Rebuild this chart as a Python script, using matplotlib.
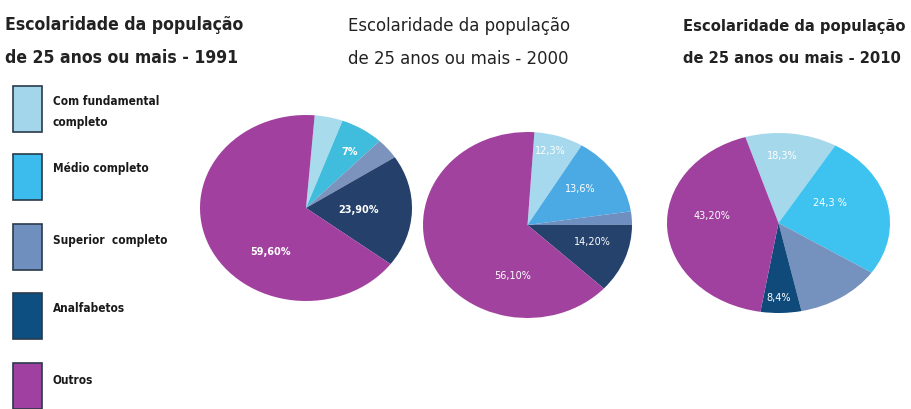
import numpy as np
import matplotlib
matplotlib.use('Agg')
import matplotlib.pyplot as plt
from matplotlib.patches import Rectangle
from matplotlib import font_manager

# categories (legend order = slice order, clockwise from top)
categories = ['Com fundamental\ncompleto', 'Médio completo', 'Superior  completo',
              'Analfabetos', 'Outros']
years = ['1991', '2000', '2010']

# wedge shares (percent)
shares_1991 = [4.3, 6.6, 3.6, 19.5, 66.0]
shares_2000 = [7.6, 14.0, 2.3, 12.0, 64.1]
shares_2010 = [13.3, 25.8, 12.4, 5.9, 42.6]

# printed labels (None = no label on that wedge)
labels_1991 = [None, '7%', None, '23,90%', '59,60%']
labels_2000 = ['12,3%', '13,6%', None, '14,20%', '56,10%']
labels_2010 = ['18,3%', '24,3 %', None, '8,4%', '43,20%']

# pick a narrow font if there is one
entries = font_manager.fontManager.ttflist
names = set(f.name for f in entries)
stretch = 'normal'
if 'Liberation Sans Narrow' in names:
    narrow = ['Liberation Sans Narrow', 'DejaVu Sans']
elif any(f.name == 'DejaVu Sans' and 'condensed' in str(f.stretch) for f in entries):
    narrow = ['DejaVu Sans']
    stretch = 'condensed'
else:
    cond = sorted(n for n in names if 'Condensed' in n or 'Narrow' in n)
    narrow = (cond[:1] or ['Liberation Sans']) + ['DejaVu Sans']

W, H = 912, 409
fig = plt.figure(figsize=(W / 100, H / 100), dpi=100)
fig.patch.set_facecolor('white')
renderer = fig.canvas.get_renderer()

def fit_width(t, target):
    # scale font so the widest line is target px wide
    bb = t.get_window_extent(renderer)
    t.set_fontsize(t.get_fontsize() * target / bb.width)

legend_colors = ['#a3d6ea', '#3cbcec', '#6f8fbf', '#0d4f80', '#a040a0']
pie_colors = [
    ['#a8dced', '#40bcdc', '#7b93bd', '#25406a', '#a1409f'],
    ['#a6d9ee', '#4ba9e4', '#6f8fc0', '#25426c', '#a1429f'],
    ['#a5d8ea', '#3ec3f1', '#7492bd', '#0f4a7a', '#a0419f'],
]

# layout: pie boxes in pixels (left, top, width, height), start angles
boxes = [(200, 115, 212, 186), (423, 132, 209, 186), (667, 133, 223, 180)]
starts = [85.3, 86.2, 107.3]
# label placement: (shift of angle in deg, radius)
lab_pos = [
    [None, (2, 0.73), None, (1, 0.5), (-31, 0.58)],
    [(-2, 0.83), (-4, 0.64), None, (-5, 0.65), (-54, 0.57)],
    [(-4, 0.74), (-13, 0.51), None, (1, 0.83), (11, 0.6)],
]
title_x = [5, 348, 683]
title_width = [238, 224, 222]
title_base = [(30, 63), (31, 64), (31, 63)]
title_w = ['bold', 'normal', 'bold']

def px_axes(l, t, w, h):
    return fig.add_axes([l / W, 1 - (t + h) / H, w / W, h / H])

for i, (shares, labs) in enumerate(zip([shares_1991, shares_2000, shares_2010],
                                       [labels_1991, labels_2000, labels_2010])):
    ax = px_axes(*boxes[i])
    wedges, _ = ax.pie(shares, colors=pie_colors[i], startangle=starts[i],
                       counterclock=False, normalize=True,
                       wedgeprops=dict(linewidth=0))
    ax.set_aspect('auto')
    ax.set_xlim(-1, 1)
    ax.set_ylim(-1, 1)
    for w, lab, pos in zip(wedges, labs, lab_pos[i]):
        if lab is None:
            continue
        mid = np.deg2rad((w.theta1 + w.theta2) / 2 - pos[0])
        ax.text(pos[1] * np.cos(mid), pos[1] * np.sin(mid), lab, color='white',
                fontsize=7, ha='center', va='center',
                fontweight='bold' if i == 0 else 'normal')
    lines = ['Escolaridade da população', 'de 25 anos ou mais - ' + years[i]]
    tt = [fig.text(title_x[i] / W, 1 - b / H, s, ha='left', va='baseline',
                   fontsize=16, family=narrow, fontstretch=stretch,
                   fontweight=title_w[i], color='#222222')
          for s, b in zip(lines, title_base[i])]
    fit_width(tt[0], title_width[i])
    tt[1].set_fontsize(tt[0].get_fontsize())

# legend boxes
box_tops = [86, 154, 224, 293, 363]
text_y = [112, 169, 240, 308, 380]
leg_texts = []
for c, cat, top, ty in zip(legend_colors, categories, box_tops, text_y):
    fig.patches.append(Rectangle((13 / W, 1 - (top + 46) / H), 29 / W, 46 / H,
                                 transform=fig.transFigure, facecolor=c,
                                 edgecolor='#2a3a4a', linewidth=1.2))
    leg_texts.append(fig.text(53 / W, 1 - ty / H, cat, ha='left', va='center',
                              fontsize=10.5, family=narrow, fontstretch=stretch,
                              fontweight='bold', color='#1a1a1a', linespacing=1.8))
fit_width(leg_texts[0], 106)
for t in leg_texts[1:]:
    t.set_fontsize(leg_texts[0].get_fontsize())

fig.savefig('out.png', dpi=100, facecolor='white')
